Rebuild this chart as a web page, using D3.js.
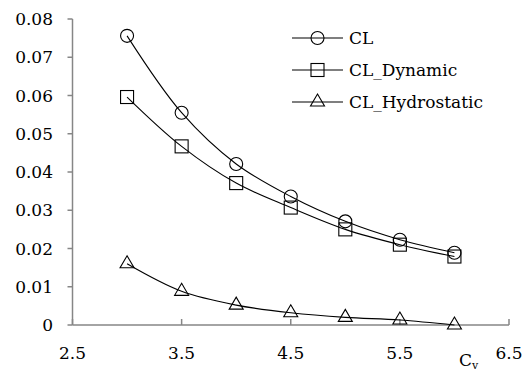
<!DOCTYPE html>
<html>
<head>
<meta charset="utf-8">
<script src="https://cdn.jsdelivr.net/npm/d3@7"></script>
<style>
  html, body { margin: 0; padding: 0; background: #fff; }
  svg { display: block; }
  text { font-family: "DejaVu Serif", serif; fill: #000; }
</style>
</head>
<body>
<script>
const cv = [3, 3.5, 4, 4.5, 5, 5.5, 6];
const clTotal = [0.0756, 0.0555, 0.0421, 0.0336, 0.0271, 0.0223, 0.0189];
const clDynamic = [0.0596, 0.0467, 0.0371, 0.0307, 0.0250, 0.0210, 0.0179];
const clHydro = [0.0160, 0.0088, 0.0052, 0.0032, 0.0020, 0.0013, 0.0000];
const seriesNames = ["CL", "CL_Dynamic", "CL_Hydrostatic"];
const seriesMarkers = ["circle", "square", "triangle"];
const xTicks = [2.5, 3.5, 4.5, 5.5, 6.5];
const yTicks = [0, 0.01, 0.02, 0.03, 0.04, 0.05, 0.06, 0.07, 0.08];

const W = 529, H = 380;
const svg = d3.select("body").append("svg").attr("width", W).attr("height", H);

const x = d3.scaleLinear().domain([2.5, 6.5]).range([72.5, 509]);
const y = d3.scaleLinear().domain([0, 0.08]).range([325, 19]);

const axisColor = "#868686";
const fontSize = 17;

// Y axis
svg.append("line").attr("x1", x(2.5)).attr("x2", x(2.5)).attr("y1", y(0)).attr("y2", y(0.08))
  .attr("stroke", axisColor).attr("stroke-width", 1.5);
yTicks.forEach(t => {
  svg.append("line").attr("x1", x(2.5) - 5).attr("x2", x(2.5)).attr("y1", y(t)).attr("y2", y(t))
    .attr("stroke", axisColor).attr("stroke-width", 1.5);
  svg.append("text").attr("x", 53).attr("y", y(t)).attr("dy", "0.36em")
    .attr("text-anchor", "end").attr("font-size", fontSize).text(t === 0 ? "0" : d3.format(".2f")(t));
});

// X axis
svg.append("line").attr("x1", x(2.5)).attr("x2", x(6.5)).attr("y1", y(0)).attr("y2", y(0))
  .attr("stroke", axisColor).attr("stroke-width", 1.5);
xTicks.forEach(t => {
  svg.append("line").attr("x1", x(t)).attr("x2", x(t)).attr("y1", y(0)).attr("y2", y(0) - 6)
    .attr("stroke", axisColor).attr("stroke-width", 1.5);
  svg.append("text").attr("x", x(t)).attr("y", 359)
    .attr("text-anchor", "middle").attr("font-size", fontSize).text(d3.format(".1f")(t));
});

// X label C_v
const xl = svg.append("text").attr("x", 459).attr("y", 366).attr("font-size", fontSize);
xl.append("tspan").text("C");
xl.append("tspan").attr("font-size", 11).attr("dy", 3).text("v");

function drawMarker(g, type, cx, cy) {
  if (type === "circle") {
    g.append("circle").attr("cx", cx).attr("cy", cy).attr("r", 6.5)
      .attr("fill", "none").attr("stroke", "#000").attr("stroke-width", 1.1);
  } else if (type === "square") {
    g.append("rect").attr("x", cx - 6.5).attr("y", cy - 6.5).attr("width", 13).attr("height", 13)
      .attr("fill", "none").attr("stroke", "#000").attr("stroke-width", 1.1);
  } else {
    const s = 14, h = 12;
    g.append("path").attr("d", `M${cx},${cy - h * 2 / 3}L${cx + s / 2},${cy + h / 3}L${cx - s / 2},${cy + h / 3}Z`)
      .attr("fill", "none").attr("stroke", "#000").attr("stroke-width", 1.1);
  }
}

const allSeries = [clTotal, clDynamic, clHydro];
const line = d3.line().x((d, i) => x(cv[i])).y(d => y(d)).curve(d3.curveCatmullRom.alpha(0.5));

allSeries.forEach((vals, si) => {
  const g = svg.append("g");
  g.append("path").attr("d", line(vals)).attr("fill", "none").attr("stroke", "#000").attr("stroke-width", 1.1);
  vals.forEach((v, i) => drawMarker(g, seriesMarkers[si], x(cv[i]), y(v)));
});

// Legend
const legY = [38, 70, 102];
seriesNames.forEach((name, i) => {
  const g = svg.append("g");
  g.append("line").attr("x1", 292).attr("x2", 343).attr("y1", legY[i]).attr("y2", legY[i])
    .attr("stroke", "#000").attr("stroke-width", 1.1);
  drawMarker(g, seriesMarkers[i], 317.5, legY[i]);
  g.append("text").attr("x", 349).attr("y", legY[i]).attr("dy", "0.36em")
    .attr("font-size", fontSize).text(name);
});
</script>
</body>
</html>
